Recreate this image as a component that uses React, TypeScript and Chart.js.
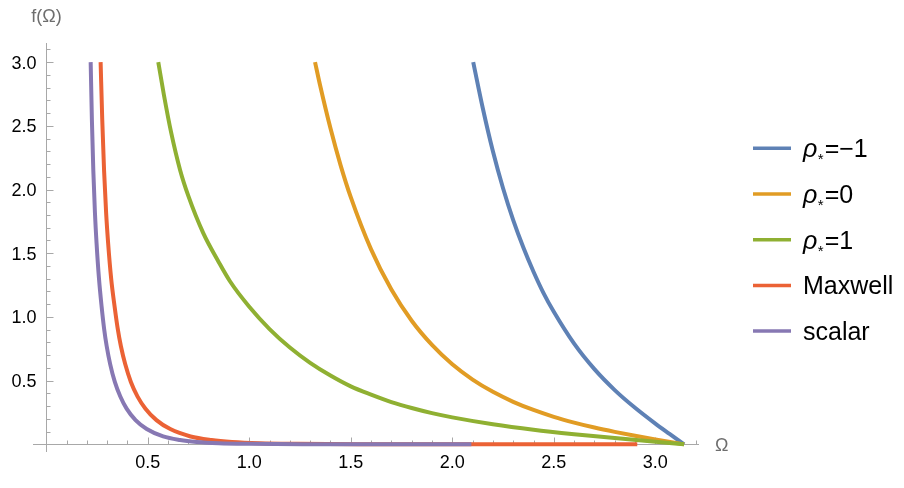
import { useEffect, useRef } from "react";
import { Chart, registerables } from "chart.js";

Chart.register(...registerables);

// ---------- data ----------
const seriesLabels = ["ρ*=−1", "ρ*=0", "ρ*=1", "Maxwell", "scalar"];
const seriesColors = ["#5E81B5", "#E19C24", "#8FB032", "#EB6235", "#8778B3"];

const blueX = [2.103, 2.15, 2.2, 2.25, 2.3, 2.35, 2.4, 2.45, 2.5, 2.6, 2.7, 2.8, 2.9, 3.0, 3.07, 3.1416];
const blueY = [3.0, 2.64, 2.3, 2.01, 1.76, 1.545, 1.355, 1.185, 1.04, 0.79, 0.59, 0.426, 0.287, 0.163, 0.082, 0.0];

const orangeX = [1.324, 1.35, 1.4, 1.45, 1.5, 1.6, 1.7, 1.8, 1.9, 2.0, 2.1, 2.2, 2.3, 2.4, 2.5, 2.6, 2.7, 2.8, 2.9, 3.0, 3.1416];
const orangeY = [3.0, 2.81, 2.48, 2.19, 1.94, 1.53, 1.215, 0.97, 0.78, 0.628, 0.508, 0.412, 0.334, 0.27, 0.216, 0.171, 0.132, 0.098, 0.067, 0.0385, 0.0];

const greenX = [0.552, 0.58, 0.615, 0.66, 0.7, 0.773, 0.85, 0.905, 1.0, 1.1, 1.2, 1.3, 1.4, 1.5, 1.6, 1.7, 1.8, 1.9, 2.0, 2.2, 2.4, 2.6, 2.8, 3.0, 3.1416];
const greenY = [3.0, 2.74, 2.45, 2.15, 1.95, 1.66, 1.43, 1.28, 1.08, 0.905, 0.76, 0.64, 0.54, 0.455, 0.39, 0.332, 0.285, 0.245, 0.212, 0.158, 0.115, 0.08, 0.049, 0.02, 0.0];

const maxwellX = [0.268, 0.276, 0.285, 0.295, 0.305, 0.32, 0.337, 0.352, 0.368, 0.389, 0.417, 0.45, 0.489, 0.543, 0.611, 0.711, 0.814, 0.915, 1.05, 1.235, 1.6, 2.1, 2.911];
const maxwellY = [3.0, 2.55, 2.15, 1.82, 1.58, 1.3, 1.08, 0.91, 0.77, 0.63, 0.49, 0.375, 0.28, 0.19, 0.12, 0.062, 0.034, 0.019, 0.009, 0.0042, 0.0012, 0.0003, 0.0];

const scalarX = [0.219, 0.225, 0.232, 0.24, 0.248, 0.26, 0.273, 0.285, 0.298, 0.315, 0.338, 0.365, 0.396, 0.44, 0.495, 0.576, 0.659, 0.741, 0.85, 1.0, 1.3, 1.7, 2.094];
const scalarY = [3.0, 2.55, 2.15, 1.82, 1.58, 1.3, 1.08, 0.91, 0.77, 0.63, 0.49, 0.375, 0.28, 0.19, 0.12, 0.062, 0.034, 0.019, 0.009, 0.0042, 0.0012, 0.0003, 0.0];

const seriesX = [blueX, orangeX, greenX, maxwellX, scalarX];
const seriesY = [blueY, orangeY, greenY, maxwellY, scalarY];

const xTickValues = [0.5, 1.0, 1.5, 2.0, 2.5, 3.0];
const xTickLabels = ["0.5", "1.0", "1.5", "2.0", "2.5", "3.0"];
const yTickValues = [0.5, 1.0, 1.5, 2.0, 2.5, 3.0];
const yTickLabels = ["0.5", "1.0", "1.5", "2.0", "2.5", "3.0"];
const xAxisTitle = "Ω";
const yAxisTitle = "f(Ω)";

// ---------- styling ----------
const AXIS_COLOR = "#a8a8a8";
const TITLE_COLOR = "#6e6e6e";
const FONT = "'Liberation Sans', Arial, 'DejaVu Sans', sans-serif";
const MINOR_STEP = 0.1;

const axesPlugin = {
  id: "mmaAxes",
  beforeDatasetsDraw(chart: any) {
    const { ctx, chartArea, scales } = chart;
    const xs = scales.x;
    const ys = scales.y;
    const x0 = Math.round(xs.getPixelForValue(0)) + 0.5;
    const y0 = Math.round(ys.getPixelForValue(0)) + 0.5;
    ctx.save();
    ctx.strokeStyle = AXIS_COLOR;
    ctx.lineWidth = 1;
    ctx.beginPath();
    ctx.moveTo(chartArea.left, y0);
    ctx.lineTo(chartArea.right, y0);
    ctx.moveTo(x0, chartArea.top);
    ctx.lineTo(x0, chartArea.bottom);
    for (let i = 1; i * MINOR_STEP <= xs.max + 1e-9; i++) {
      const px = Math.round(xs.getPixelForValue(i * MINOR_STEP)) + 0.5;
      const len = i % 5 === 0 ? 7 : 4;
      ctx.moveTo(px, y0);
      ctx.lineTo(px, y0 - len);
    }
    for (let i = 1; i * MINOR_STEP <= ys.max + 1e-9; i++) {
      const py = Math.round(ys.getPixelForValue(i * MINOR_STEP)) + 0.5;
      const len = i % 5 === 0 ? 7 : 4;
      ctx.moveTo(x0, py);
      ctx.lineTo(x0 + len, py);
    }
    ctx.stroke();

    ctx.fillStyle = "#000";
    ctx.font = `18px ${FONT}`;
    ctx.textBaseline = "alphabetic";
    ctx.textAlign = "center";
    xTickValues.forEach((v, i) => {
      ctx.fillText(xTickLabels[i], xs.getPixelForValue(v), y0 + 23);
    });
    ctx.textAlign = "right";
    yTickValues.forEach((v, i) => {
      ctx.fillText(yTickLabels[i], x0 - 10, ys.getPixelForValue(v) + 6.5);
    });

    ctx.fillStyle = TITLE_COLOR;
    ctx.textAlign = "center";
    ctx.fillText(yAxisTitle, x0, chartArea.top - 21);
    ctx.textAlign = "left";
    ctx.fillText(xAxisTitle, chartArea.right + 16, y0 + 6);
    ctx.restore();
  },
};

const legendPlugin = {
  id: "mmaLegend",
  afterDraw(chart: any) {
    const { ctx } = chart;
    const datasets = chart.data.datasets;
    const lineX0 = 753;
    const lineX1 = 791;
    const textX = 803;
    const firstY = 148.3;
    const stepY = 45.7;
    ctx.save();
    datasets.forEach((ds: any, i: number) => {
      const cy = firstY + i * stepY;
      ctx.strokeStyle = ds.borderColor;
      ctx.lineWidth = 3.5;
      ctx.lineCap = "butt";
      ctx.beginPath();
      ctx.moveTo(lineX0, cy);
      ctx.lineTo(lineX1, cy);
      ctx.stroke();

      const label: string = ds.label;
      const base = cy + 9;
      ctx.fillStyle = "#000";
      ctx.textAlign = "left";
      ctx.textBaseline = "alphabetic";
      if (label.startsWith("ρ*")) {
        let x = textX;
        ctx.font = `italic 25px ${FONT}`;
        ctx.fillText("ρ", x, base);
        x += ctx.measureText("ρ").width + 0.5;
        ctx.font = `15px ${FONT}`;
        ctx.fillText("*", x, base + 7);
        x += ctx.measureText("*").width + 1;
        ctx.font = `25px ${FONT}`;
        ctx.fillText(label.slice(2), x, base);
      } else {
        ctx.font = `25px ${FONT}`;
        ctx.fillText(label, textX, base);
      }
    });
    ctx.restore();
  },
};

export default function App() {
  const canvasRef = useRef<HTMLCanvasElement | null>(null);

  useEffect(() => {
    const canvas = canvasRef.current;
    if (!canvas) return;
    const datasets = seriesLabels.map((label, k) => ({
      label,
      data: seriesX[k].map((x, i) => ({ x, y: seriesY[k][i] })),
      borderColor: seriesColors[k],
      backgroundColor: seriesColors[k],
      borderWidth: 4,
      pointRadius: 0,
      pointHoverRadius: 0,
      fill: false,
      cubicInterpolationMode: "monotone" as const,
      borderCapStyle: "butt" as const,
      borderJoinStyle: "round" as const,
      order: seriesLabels.length - k,
    }));

    const chart = new Chart(canvas, {
      type: "line",
      data: { datasets },
      options: {
        animation: false,
        responsive: false,
        devicePixelRatio: 1,
        layout: { padding: { left: 33, right: 205, top: 43, bottom: 36 } },
        scales: {
          x: { type: "linear", min: -0.065, max: 3.215, display: false },
          y: { type: "linear", min: -0.06, max: 3.15, display: false },
        },
        plugins: {
          legend: { display: false },
          tooltip: { enabled: false },
        },
        events: [],
      },
      plugins: [axesPlugin, legendPlugin],
    });
    return () => chart.destroy();
  }, []);

  return (
    <div style={{ position: "fixed", left: 0, top: 0, width: 904, height: 488, background: "#fff" }}>
      <canvas ref={canvasRef} width={904} height={488} style={{ display: "block" }} />
    </div>
  );
}
